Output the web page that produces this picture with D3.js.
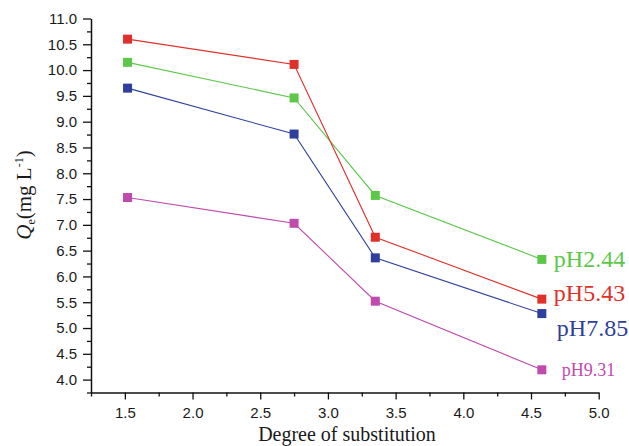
<!DOCTYPE html>
<html>
<head>
<meta charset="utf-8">
<script src="https://cdn.jsdelivr.net/npm/d3@7"></script>
<style>
  body { margin: 0; background: #fff; }
  svg { display: block; }
  .tick text { font-family: "Liberation Sans", Arial, sans-serif; font-size: 15px; fill: #1a1a1a; }
</style>
</head>
<body>
<div id="chart"></div>
<script>
var degree = [1.52, 2.75, 3.35, 4.58];
var ph244 = [10.15, 9.46, 7.57, 6.33];
var ph543 = [10.60, 10.11, 6.76, 5.56];
var ph785 = [9.65, 8.76, 6.36, 5.28];
var ph931 = [7.53, 7.03, 5.52, 4.19];
var seriesNames = ["pH2.44", "pH5.43", "pH7.85", "pH9.31"];
var xTicks = [1.5, 2.0, 2.5, 3.0, 3.5, 4.0, 4.5, 5.0];
var yTicks = [4.0, 4.5, 5.0, 5.5, 6.0, 6.5, 7.0, 7.5, 8.0, 8.5, 9.0, 9.5, 10.0, 10.5, 11.0];

var width = 629, height = 446;
var margin = { top: 18.5, left: 91, right: 30, bottom: 53.5 };

var svg = d3.select("#chart").append("svg")
  .attr("width", width)
  .attr("height", height);

var x = d3.scaleLinear().domain([1.25, 5.0]).range([margin.left, 598.7]);
var y = d3.scaleLinear().domain([3.75, 11.0]).range([height - margin.bottom, margin.top]);

// axes: major ticks labelled, minor ticks in between
var xMinor = d3.range(1.25, 5.01, 0.5);
var yMinor = d3.range(3.75, 11.0, 0.5);

svg.append("g")
  .attr("transform", "translate(0," + y(3.75) + ")")
  .call(d3.axisBottom(x).tickValues(xMinor).tickSize(4).tickFormat(""))
  .call(g => g.select(".domain").remove())
  .selectAll("line").attr("stroke", "#111").attr("stroke-width", 1.3);

svg.append("g")
  .attr("transform", "translate(" + x(1.25) + ",0)")
  .call(d3.axisLeft(y).tickValues(yMinor).tickSize(4).tickFormat(""))
  .call(g => g.select(".domain").remove())
  .selectAll("line").attr("stroke", "#111").attr("stroke-width", 1.3);

var xAxis = svg.append("g")
  .attr("transform", "translate(0," + y(3.75) + ")")
  .call(d3.axisBottom(x).tickValues(xTicks).tickSize(7).tickPadding(8).tickSizeOuter(0).tickFormat(d3.format(".1f")));
xAxis.select(".domain").attr("stroke", "#111").attr("stroke-width", 1.5);
xAxis.selectAll(".tick line").attr("stroke", "#111").attr("stroke-width", 1.3);

var yAxis = svg.append("g")
  .attr("transform", "translate(" + x(1.25) + ",0)")
  .call(d3.axisLeft(y).tickValues(yTicks).tickSize(8).tickPadding(6).tickSizeOuter(0).tickFormat(d3.format(".1f")));
yAxis.select(".domain").attr("stroke", "#111").attr("stroke-width", 1.5);
yAxis.selectAll(".tick line").attr("stroke", "#111").attr("stroke-width", 1.3);

// series
var series = [
  { name: seriesNames[0], values: ph244, color: "#5cc84a", size: 24, dx: 12, dy: 8 },
  { name: seriesNames[1], values: ph543, color: "#e0302a", size: 24, dx: 12, dy: 2 },
  { name: seriesNames[2], values: ph785, color: "#2f3f9e", size: 24, dx: 15, dy: 22 },
  { name: seriesNames[3], values: ph931, color: "#c04aae", size: 18, dx: 20, dy: 6 }
];

var line = d3.line()
  .x(function(d, i) { return x(degree[i]); })
  .y(function(d) { return y(d); });

series.forEach(function(s) {
  svg.append("path")
    .datum(s.values)
    .attr("fill", "none")
    .attr("stroke", s.color)
    .attr("stroke-width", 1.1)
    .attr("d", line);
});

series.forEach(function(s) {
  svg.selectAll(null)
    .data(s.values)
    .enter().append("rect")
    .attr("x", function(d, i) { return x(degree[i]) - 4.5; })
    .attr("y", function(d) { return y(d) - 4.5; })
    .attr("width", 9)
    .attr("height", 9)
    .attr("fill", s.color);

  var last = s.values.length - 1;
  svg.append("text")
    .attr("x", x(degree[last]) + s.dx)
    .attr("y", y(s.values[last]) + s.dy)
    .attr("fill", s.color)
    .style("font-family", "'Liberation Serif', 'Times New Roman', serif")
    .style("font-size", s.size + "px")
    .text(s.name);
});

// axis titles
svg.append("text")
  .attr("x", 347)
  .attr("y", 441)
  .attr("text-anchor", "middle")
  .style("font-family", "'Liberation Serif', 'Times New Roman', serif")
  .style("font-size", "20px")
  .attr("fill", "#1a1a1a")
  .text("Degree of substitution");

var yLabel = svg.append("text")
  .attr("transform", "translate(31,195) rotate(-90)")
  .attr("text-anchor", "middle")
  .style("font-family", "'Liberation Serif', 'Times New Roman', serif")
  .style("font-size", "21px")
  .attr("fill", "#1a1a1a");
yLabel.append("tspan").style("font-style", "italic").text("Q");
yLabel.append("tspan").attr("dy", 4).style("font-size", "12px").text("e");
yLabel.append("tspan").attr("dy", -4).text("(mg L");
yLabel.append("tspan").attr("dy", -8).style("font-size", "12px").text("-1");
yLabel.append("tspan").attr("dy", 8).text(")");
</script>
</body>
</html>
